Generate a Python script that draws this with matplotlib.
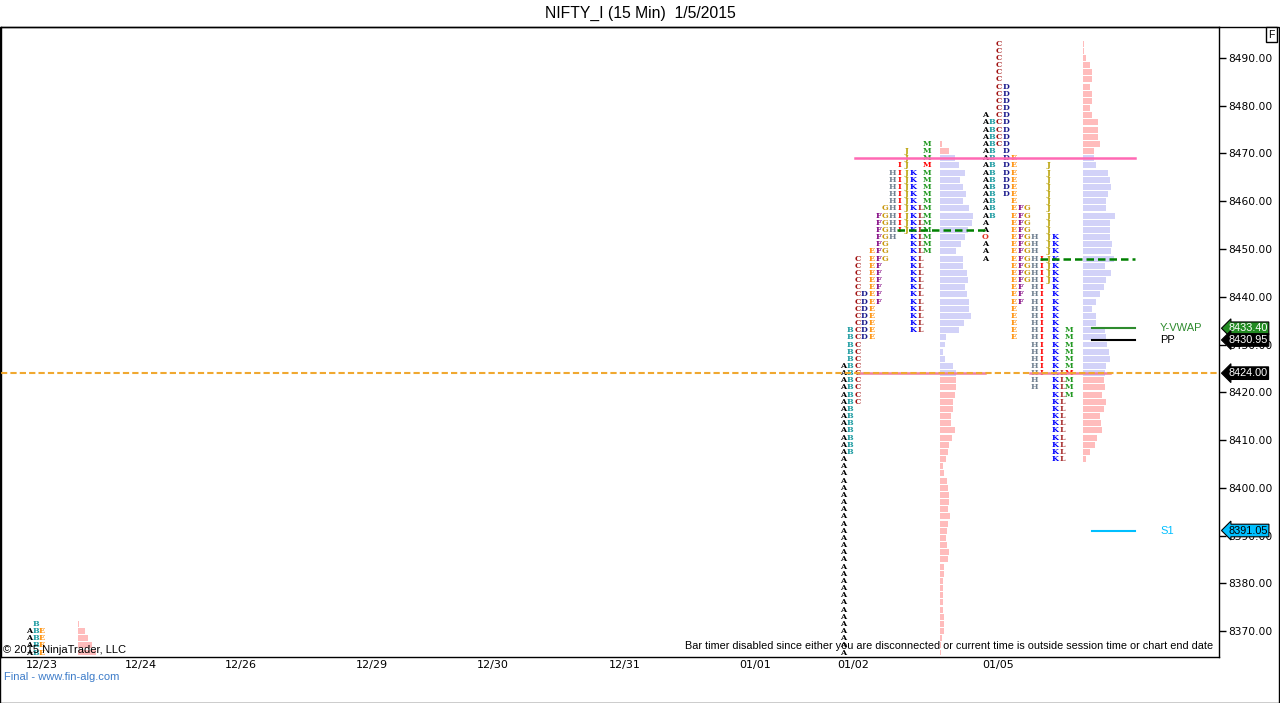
import matplotlib
matplotlib.use('Agg')
import matplotlib.pyplot as plt
import matplotlib.transforms as mtransforms
from matplotlib.patches import Rectangle
import numpy as np

# ---------------- dados ----------------
titulo = 'NIFTY_I (15 Min)  1/5/2015'
datas = ['12/23', '12/24', '12/26', '12/29', '12/30', '12/31', '01/01', '01/02', '01/05']
precos_eixo = list(range(8370, 8491, 10))
passo = 1.5  # tamanho de cada linha do perfil

periodos = list('ABCDEFGHIJKLM')

# 01/02 - faixa de cada periodo (minimo, maximo)
jan02_min = [8365.5, 8407.5, 8418.0, 8431.5, 8431.5, 8439.0, 8448.0, 8452.5, 8454.0, 8454.0, 8433.0, 8433.0, 8449.5]
jan02_max = [8425.5, 8433.0, 8448.0, 8440.5, 8449.5, 8457.0, 8458.5, 8466.0, 8467.5, 8470.5, 8466.0, 8458.5, 8472.0]
jan02_fech = 8467.5
jan02_poc = 8454.0
# volume por linha, de cima (8472.0) para baixo
jan02_vol_topo = 8472.0
jan02_vol = [2, 9, 15, 19, 25, 20, 23, 26, 23, 29,
             33, 32, 28, 25, 21, 16, 23, 23, 27, 28,
             25, 27, 29, 29, 31, 24, 19, 6, 5, 3,
             5, 13, 16,
             16, 16, 15, 13, 13, 11, 11, 15, 12, 9,
             8, 6, 3, 4, 7, 8, 9, 9, 8, 10,
             8, 7, 6, 7, 9, 8, 4, 4, 3, 3,
             3, 3, 3, 4, 4, 4, 2, 1, 1]

# 01/05
jan05_min = [8448.0, 8457.0, 8472.0, 8461.5, 8431.5, 8439.0, 8443.5, 8421.0, 8424.0, 8443.5, 8406.0, 8406.0, 8419.5]
jan05_max = [8478.0, 8476.5, 8493.0, 8484.0, 8469.0, 8458.5, 8458.5, 8452.5, 8448.0, 8467.5, 8452.5, 8424.0, 8433.0]
jan05_abert = 8452.5
jan05_fech = 8424.0
jan05_poc = 8448.0
jan05_vol_topo = 8493.0
jan05_vol = [1, 1, 3, 7, 9, 9, 7, 9, 9, 7,
             9, 15, 15, 15, 17, 11, 11, 13, 25, 27,
             28, 25, 23, 23, 32, 27, 27, 27, 29, 28,
             31, 22, 28, 23, 21, 17, 13, 9, 13, 13,
             22, 23, 24, 26, 27, 23, 22, 21, 22, 19,
             23, 21, 17, 18, 19, 14, 12, 7, 3]

# 12/23 (so o final do perfil aparece)
dez23_periodos = ['A', 'B', 'E']
dez23_min = [8365.5, 8365.5, 8365.5]
dez23_max = [8370.0, 8371.5, 8370.0]
dez23_vol_topo = 8371.5
dez23_vol = [1.5, 7, 10, 14, 18]

# area de valor
va_baixo = 8424.0
va_alto = 8469.0

# niveis
nivel_rosa = 8469.0
nivel_laranja = 8424.0
y_vwap = 8433.40
pp = 8430.95
s1 = 8391.05

cores_letras = {
    'A': 'black', 'B': '#1a9aa0', 'C': '#a01010', 'D': '#1a1a8c', 'E': '#ff8c00',
    'F': '#800080', 'G': '#c8960a', 'H': '#708090', 'I': '#ff0000', 'J': '#b8a000',
    'K': '#0000ff', 'L': '#a52a2a', 'M': '#229922', 'O': '#e0301e',
}

# ---------------- figura ----------------
W, H = 1280, 703
fig = plt.figure(figsize=(W / 100, H / 100), dpi=100)
fig.patch.set_facecolor('white')

ax = fig.add_axes([1 / W, (H - 657) / H, 1218 / W, (657 - 27) / H])
ax.set_xlim(0, 1219)
ax.set_ylim(8364.56, 8496.49)

plt.rcParams['font.family'] = ['Liberation Sans', 'DejaVu Sans']


def fx(x):
    return x / W


def fy(y):
    return 1 - y / H


def desenha_letras(letras, mins, maxs, x0, dx, colunas=None, especiais=None):
    especiais = especiais or {}
    for i, (l, lo, hi) in enumerate(zip(letras, mins, maxs)):
        col = periodos.index(l) if colunas is None else colunas[i]
        peso = 'bold' if l == 'A' else 'semibold'
        for p in np.arange(lo, hi + 0.01, passo):
            txt, cor = l, cores_letras[l]
            chave = (l, round(p, 2))
            if chave in especiais:
                txt, cor = especiais[chave]
            ax.text(x0 + col * dx, p, txt, color=cor, fontsize=5.7, fontweight=peso,
                    family='DejaVu Serif', ha='center', va='center', zorder=3)


def desenha_volume(vol, topo, x0):
    precos = topo - passo * np.arange(len(vol))
    cores = ['#d2d2f8' if va_baixo <= p <= va_alto else '#ffbcbc' for p in precos]
    ax.barh(precos, vol, height=1.25, left=x0, color=cores, zorder=2)


# perfis
desenha_letras(dez23_periodos, dez23_min, dez23_max, 28, 6.5, colunas=[0, 1, 2])
desenha_volume(dez23_vol, dez23_vol_topo, 77)

desenha_letras(periodos, jan02_min, jan02_max, 843, 7.0,
               especiais={('M', jan02_fech): ('M', cores_letras['I'])})
desenha_volume(jan02_vol, jan02_vol_topo, 940)

desenha_letras(periodos, jan05_min, jan05_max, 985, 7.0,
               especiais={('A', jan05_abert): ('O', cores_letras['O']),
                          ('M', jan05_fech): ('M', cores_letras['I'])})
desenha_volume(jan05_vol, jan05_vol_topo, 1083)

# linhas de nivel
ax.plot([855, 1135], [nivel_rosa, nivel_rosa], color='#ff69b4', lw=1.8, zorder=4)
ax.plot([860, 985], [nivel_laranja, nivel_laranja], color='#f080a0', lw=1.8, zorder=4)
ax.plot([1030, 1110], [nivel_laranja, nivel_laranja], color='#f080a0', lw=1.8, zorder=4)
ax.axhline(nivel_laranja, color='#f0a830', lw=1.5, dashes=(3, 1.5), zorder=5)
ax.plot([897, 985], [jan02_poc, jan02_poc], color='#008000', lw=1.8, dashes=(3, 1.6), zorder=5)
ax.plot([1040, 1135], [jan05_poc, jan05_poc], color='#008000', lw=1.8, dashes=(3, 1.6), zorder=5)

ax.plot([1092, 1135], [y_vwap, y_vwap], color='#2e8b2e', lw=1.5, zorder=4)
ax.plot([1092, 1135], [pp, pp], color='black', lw=1.5, zorder=4)
ax.plot([1092, 1135], [s1, s1], color='#00bfff', lw=1.5, zorder=4)
ax.text(1160, y_vwap, 'Y-VWAP', color='#2e8b2e', fontsize=8, va='center')
ax.text(1160, pp, 'PP', color='black', fontsize=8, va='center')
ax.text(1160, s1, 'S1', color='#00bfff', fontsize=8, va='center')

# eixos
ax.yaxis.tick_right()
ax.set_yticks(precos_eixo)
ax.set_yticklabels([f'{p:.2f}' for p in precos_eixo])
ax.tick_params(axis='y', direction='out', length=5, width=1, pad=2, labelsize=7.7)
pos_datas = [41, 140, 240, 371, 492, 624, 755, 853, 998]
ax.set_xticks(pos_datas)
ax.set_xticklabels(datas)
ax.tick_params(axis='x', length=0, pad=2, labelsize=8)
for s in ax.spines.values():
    s.set_linewidth(1)

# etiquetas de preco no eixo direito
trans = mtransforms.blended_transform_factory(ax.transAxes, ax.transData)
for valor, fundo, cor_txt in [(y_vwap, '#228b22', 'white'), (pp, 'black', 'white'),
                              (nivel_laranja, 'black', 'white'), (s1, '#00bfff', 'black')]:
    ax.text(1.0075, valor, f'{valor:.2f}', transform=trans, color=cor_txt, fontsize=7.8,
            va='center', ha='left', clip_on=False, zorder=10,
            bbox=dict(boxstyle='larrow,pad=0.12', fc=fundo, ec='black', lw=0.8))

# textos
fig.text(0.5, fy(13), titulo, ha='center', va='center', fontsize=11.3)
fig.text(fx(3), fy(650), '© 2015 NinjaTrader, LLC', fontsize=8, va='center')
fig.text(fx(1213), fy(646), 'Bar timer disabled since either you are disconnected or current time '
         'is outside session time or chart end date', fontsize=7.8, ha='right', va='center')
fig.text(fx(4), fy(677), 'Final - www.fin-alg.com', color='#3d7cc9', fontsize=8, va='center')
fig.text(fx(1271.5), fy(34.5), 'F', fontsize=7.5, ha='center', va='center',
         bbox=dict(boxstyle='square,pad=0.25', fc='white', ec='black', lw=1))

# moldura externa
fig.add_artist(Rectangle((0, 0), 1 - 1 / W, fy(27), transform=fig.transFigure,
                         fill=False, ec='black', lw=1))

fig.savefig('out.png', dpi=100)
